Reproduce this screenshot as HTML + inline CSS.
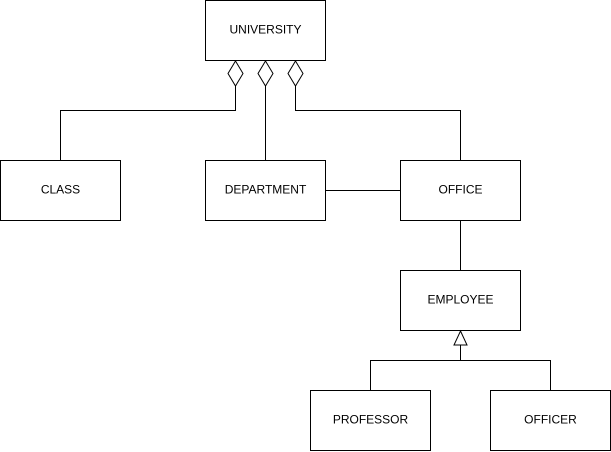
<!DOCTYPE html>
<html><head><style>html,body{margin:0;padding:0;background:#fff;}svg{display:block}</style></head>
<body>
<svg width="611" height="452" viewBox="0 0 611 452" xmlns="http://www.w3.org/2000/svg" font-family="Liberation Sans, sans-serif" font-size="12">
<g fill="#fff" stroke="#000" stroke-width="1">
<rect x="205.5" y="0.5" width="120" height="60"/>
<rect x="0.5" y="160.5" width="120" height="60"/>
<rect x="205.5" y="160.5" width="120" height="60"/>
<rect x="400.5" y="160.5" width="120" height="60"/>
<rect x="400.5" y="270.5" width="120" height="60"/>
<rect x="310.5" y="390.5" width="120" height="60"/>
<rect x="490.5" y="390.5" width="120" height="60"/>
</g>
<g fill="none" stroke="#000" stroke-width="1">
<polyline points="235.5,86 235.5,110.5 60.5,110.5 60.5,160"/>
<line x1="265.5" y1="86" x2="265.5" y2="160"/>
<polyline points="295.5,86 295.5,110.5 460.5,110.5 460.5,160"/>
<line x1="325" y1="190.5" x2="400" y2="190.5"/>
<line x1="460.5" y1="220" x2="460.5" y2="270"/>
<polyline points="460.5,345 460.5,360.5 370.5,360.5 370.5,390"/>
<polyline points="460.5,360.5 550.5,360.5 550.5,390"/>
</g>
<g fill="#fff" stroke="#000" stroke-width="1">
<polygon points="235.5,61 243,73.5 235.5,86 228,73.5"/>
<polygon points="265.5,61 273,73.5 265.5,86 258,73.5"/>
<polygon points="295.5,61 303,73.5 295.5,86 288,73.5"/>
<polygon points="460.5,331 467,345 454,345"/>
</g>
<g text-anchor="middle" fill="#000">
<text x="265.5" y="33.5">UNIVERSITY</text>
<text x="60.5" y="193.5">CLASS</text>
<text x="265.5" y="193.5">DEPARTMENT</text>
<text x="460.5" y="193.5">OFFICE</text>
<text x="460.5" y="303.5">EMPLOYEE</text>
<text x="370.5" y="423.5">PROFESSOR</text>
<text x="550.5" y="423.5">OFFICER</text>
</g>
</svg>
</body></html>
